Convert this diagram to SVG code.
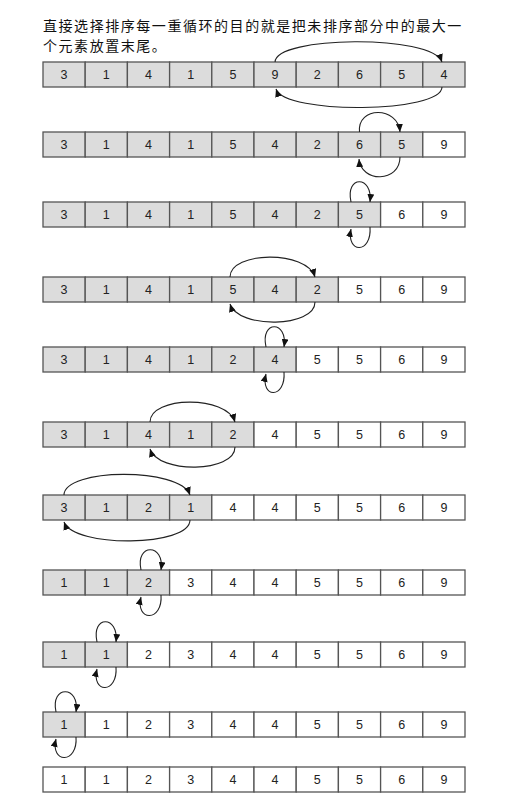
<svg xmlns="http://www.w3.org/2000/svg" width="525" height="802" viewBox="0 0 525 802">
<style>
.t{font-family:"Noto Sans CJK SC","Liberation Sans",sans-serif;font-size:14px;letter-spacing:1.55px;fill:#111}
.c rect{stroke:#555;stroke-width:1.3}
.g{fill:#dcdcdc}
.w{fill:#fff}
.c text{font-family:"Liberation Sans",Arial,sans-serif;font-size:12.5px;fill:#222;text-anchor:middle}
.a{fill:none;stroke:#222;stroke-width:1.1;marker-end:url(#ah)}
</style>
<defs>
<marker id="ah" markerUnits="userSpaceOnUse" markerWidth="9" markerHeight="7" refX="8" refY="3.5" orient="auto"><path d="M0,0 L8,3.5 L0,7 z" fill="#111"/></marker>
</defs>
<rect width="525" height="802" fill="#fff"/>
<text class="t" x="43" y="31">直接选择排序每一重循环的目的就是把未排序部分中的最大一</text>
<text class="t" x="43" y="51">个元素放置末尾。</text>

<g id="row1" class="c">
<g id="r1c1"><rect class="g" x="43" y="62" width="42.2" height="25"/><text x="64.1" y="79">3</text></g>
<g id="r1c2"><rect class="g" x="85.2" y="62" width="42.2" height="25"/><text x="106.3" y="79">1</text></g>
<g id="r1c3"><rect class="g" x="127.4" y="62" width="42.2" height="25"/><text x="148.5" y="79">4</text></g>
<g id="r1c4"><rect class="g" x="169.6" y="62" width="42.2" height="25"/><text x="190.7" y="79">1</text></g>
<g id="r1c5"><rect class="g" x="211.8" y="62" width="42.2" height="25"/><text x="232.9" y="79">5</text></g>
<g id="r1c6"><rect class="g" x="254" y="62" width="42.2" height="25"/><text x="275.1" y="79">9</text></g>
<g id="r1c7"><rect class="g" x="296.2" y="62" width="42.2" height="25"/><text x="317.3" y="79">2</text></g>
<g id="r1c8"><rect class="g" x="338.4" y="62" width="42.2" height="25"/><text x="359.5" y="79">6</text></g>
<g id="r1c9"><rect class="g" x="380.6" y="62" width="42.2" height="25"/><text x="401.7" y="79">5</text></g>
<g id="r1c10"><rect class="g" x="422.8" y="62" width="42.2" height="25"/><text x="443.9" y="79">4</text></g>
</g>

<g id="row2" class="c">
<g id="r2c1"><rect class="g" x="43" y="132" width="42.2" height="25"/><text x="64.1" y="149">3</text></g>
<g id="r2c2"><rect class="g" x="85.2" y="132" width="42.2" height="25"/><text x="106.3" y="149">1</text></g>
<g id="r2c3"><rect class="g" x="127.4" y="132" width="42.2" height="25"/><text x="148.5" y="149">4</text></g>
<g id="r2c4"><rect class="g" x="169.6" y="132" width="42.2" height="25"/><text x="190.7" y="149">1</text></g>
<g id="r2c5"><rect class="g" x="211.8" y="132" width="42.2" height="25"/><text x="232.9" y="149">5</text></g>
<g id="r2c6"><rect class="g" x="254" y="132" width="42.2" height="25"/><text x="275.1" y="149">4</text></g>
<g id="r2c7"><rect class="g" x="296.2" y="132" width="42.2" height="25"/><text x="317.3" y="149">2</text></g>
<g id="r2c8"><rect class="g" x="338.4" y="132" width="42.2" height="25"/><text x="359.5" y="149">6</text></g>
<g id="r2c9"><rect class="g" x="380.6" y="132" width="42.2" height="25"/><text x="401.7" y="149">5</text></g>
<g id="r2c10"><rect class="w" x="422.8" y="132" width="42.2" height="25"/><text x="443.9" y="149">9</text></g>
</g>

<g id="row3" class="c">
<g id="r3c1"><rect class="g" x="43" y="202" width="42.2" height="25"/><text x="64.1" y="219">3</text></g>
<g id="r3c2"><rect class="g" x="85.2" y="202" width="42.2" height="25"/><text x="106.3" y="219">1</text></g>
<g id="r3c3"><rect class="g" x="127.4" y="202" width="42.2" height="25"/><text x="148.5" y="219">4</text></g>
<g id="r3c4"><rect class="g" x="169.6" y="202" width="42.2" height="25"/><text x="190.7" y="219">1</text></g>
<g id="r3c5"><rect class="g" x="211.8" y="202" width="42.2" height="25"/><text x="232.9" y="219">5</text></g>
<g id="r3c6"><rect class="g" x="254" y="202" width="42.2" height="25"/><text x="275.1" y="219">4</text></g>
<g id="r3c7"><rect class="g" x="296.2" y="202" width="42.2" height="25"/><text x="317.3" y="219">2</text></g>
<g id="r3c8"><rect class="g" x="338.4" y="202" width="42.2" height="25"/><text x="359.5" y="219">5</text></g>
<g id="r3c9"><rect class="w" x="380.6" y="202" width="42.2" height="25"/><text x="401.7" y="219">6</text></g>
<g id="r3c10"><rect class="w" x="422.8" y="202" width="42.2" height="25"/><text x="443.9" y="219">9</text></g>
</g>

<g id="row4" class="c">
<g id="r4c1"><rect class="g" x="43" y="277" width="42.2" height="25"/><text x="64.1" y="294">3</text></g>
<g id="r4c2"><rect class="g" x="85.2" y="277" width="42.2" height="25"/><text x="106.3" y="294">1</text></g>
<g id="r4c3"><rect class="g" x="127.4" y="277" width="42.2" height="25"/><text x="148.5" y="294">4</text></g>
<g id="r4c4"><rect class="g" x="169.6" y="277" width="42.2" height="25"/><text x="190.7" y="294">1</text></g>
<g id="r4c5"><rect class="g" x="211.8" y="277" width="42.2" height="25"/><text x="232.9" y="294">5</text></g>
<g id="r4c6"><rect class="g" x="254" y="277" width="42.2" height="25"/><text x="275.1" y="294">4</text></g>
<g id="r4c7"><rect class="g" x="296.2" y="277" width="42.2" height="25"/><text x="317.3" y="294">2</text></g>
<g id="r4c8"><rect class="w" x="338.4" y="277" width="42.2" height="25"/><text x="359.5" y="294">5</text></g>
<g id="r4c9"><rect class="w" x="380.6" y="277" width="42.2" height="25"/><text x="401.7" y="294">6</text></g>
<g id="r4c10"><rect class="w" x="422.8" y="277" width="42.2" height="25"/><text x="443.9" y="294">9</text></g>
</g>

<g id="row5" class="c">
<g id="r5c1"><rect class="g" x="43" y="347" width="42.2" height="25"/><text x="64.1" y="364">3</text></g>
<g id="r5c2"><rect class="g" x="85.2" y="347" width="42.2" height="25"/><text x="106.3" y="364">1</text></g>
<g id="r5c3"><rect class="g" x="127.4" y="347" width="42.2" height="25"/><text x="148.5" y="364">4</text></g>
<g id="r5c4"><rect class="g" x="169.6" y="347" width="42.2" height="25"/><text x="190.7" y="364">1</text></g>
<g id="r5c5"><rect class="g" x="211.8" y="347" width="42.2" height="25"/><text x="232.9" y="364">2</text></g>
<g id="r5c6"><rect class="g" x="254" y="347" width="42.2" height="25"/><text x="275.1" y="364">4</text></g>
<g id="r5c7"><rect class="w" x="296.2" y="347" width="42.2" height="25"/><text x="317.3" y="364">5</text></g>
<g id="r5c8"><rect class="w" x="338.4" y="347" width="42.2" height="25"/><text x="359.5" y="364">5</text></g>
<g id="r5c9"><rect class="w" x="380.6" y="347" width="42.2" height="25"/><text x="401.7" y="364">6</text></g>
<g id="r5c10"><rect class="w" x="422.8" y="347" width="42.2" height="25"/><text x="443.9" y="364">9</text></g>
</g>

<g id="row6" class="c">
<g id="r6c1"><rect class="g" x="43" y="422" width="42.2" height="25"/><text x="64.1" y="439">3</text></g>
<g id="r6c2"><rect class="g" x="85.2" y="422" width="42.2" height="25"/><text x="106.3" y="439">1</text></g>
<g id="r6c3"><rect class="g" x="127.4" y="422" width="42.2" height="25"/><text x="148.5" y="439">4</text></g>
<g id="r6c4"><rect class="g" x="169.6" y="422" width="42.2" height="25"/><text x="190.7" y="439">1</text></g>
<g id="r6c5"><rect class="g" x="211.8" y="422" width="42.2" height="25"/><text x="232.9" y="439">2</text></g>
<g id="r6c6"><rect class="w" x="254" y="422" width="42.2" height="25"/><text x="275.1" y="439">4</text></g>
<g id="r6c7"><rect class="w" x="296.2" y="422" width="42.2" height="25"/><text x="317.3" y="439">5</text></g>
<g id="r6c8"><rect class="w" x="338.4" y="422" width="42.2" height="25"/><text x="359.5" y="439">5</text></g>
<g id="r6c9"><rect class="w" x="380.6" y="422" width="42.2" height="25"/><text x="401.7" y="439">6</text></g>
<g id="r6c10"><rect class="w" x="422.8" y="422" width="42.2" height="25"/><text x="443.9" y="439">9</text></g>
</g>

<g id="row7" class="c">
<g id="r7c1"><rect class="g" x="43" y="495" width="42.2" height="25"/><text x="64.1" y="512">3</text></g>
<g id="r7c2"><rect class="g" x="85.2" y="495" width="42.2" height="25"/><text x="106.3" y="512">1</text></g>
<g id="r7c3"><rect class="g" x="127.4" y="495" width="42.2" height="25"/><text x="148.5" y="512">2</text></g>
<g id="r7c4"><rect class="g" x="169.6" y="495" width="42.2" height="25"/><text x="190.7" y="512">1</text></g>
<g id="r7c5"><rect class="w" x="211.8" y="495" width="42.2" height="25"/><text x="232.9" y="512">4</text></g>
<g id="r7c6"><rect class="w" x="254" y="495" width="42.2" height="25"/><text x="275.1" y="512">4</text></g>
<g id="r7c7"><rect class="w" x="296.2" y="495" width="42.2" height="25"/><text x="317.3" y="512">5</text></g>
<g id="r7c8"><rect class="w" x="338.4" y="495" width="42.2" height="25"/><text x="359.5" y="512">5</text></g>
<g id="r7c9"><rect class="w" x="380.6" y="495" width="42.2" height="25"/><text x="401.7" y="512">6</text></g>
<g id="r7c10"><rect class="w" x="422.8" y="495" width="42.2" height="25"/><text x="443.9" y="512">9</text></g>
</g>

<g id="row8" class="c">
<g id="r8c1"><rect class="g" x="43" y="570" width="42.2" height="25"/><text x="64.1" y="587">1</text></g>
<g id="r8c2"><rect class="g" x="85.2" y="570" width="42.2" height="25"/><text x="106.3" y="587">1</text></g>
<g id="r8c3"><rect class="g" x="127.4" y="570" width="42.2" height="25"/><text x="148.5" y="587">2</text></g>
<g id="r8c4"><rect class="w" x="169.6" y="570" width="42.2" height="25"/><text x="190.7" y="587">3</text></g>
<g id="r8c5"><rect class="w" x="211.8" y="570" width="42.2" height="25"/><text x="232.9" y="587">4</text></g>
<g id="r8c6"><rect class="w" x="254" y="570" width="42.2" height="25"/><text x="275.1" y="587">4</text></g>
<g id="r8c7"><rect class="w" x="296.2" y="570" width="42.2" height="25"/><text x="317.3" y="587">5</text></g>
<g id="r8c8"><rect class="w" x="338.4" y="570" width="42.2" height="25"/><text x="359.5" y="587">5</text></g>
<g id="r8c9"><rect class="w" x="380.6" y="570" width="42.2" height="25"/><text x="401.7" y="587">6</text></g>
<g id="r8c10"><rect class="w" x="422.8" y="570" width="42.2" height="25"/><text x="443.9" y="587">9</text></g>
</g>

<g id="row9" class="c">
<g id="r9c1"><rect class="g" x="43" y="642" width="42.2" height="25"/><text x="64.1" y="659">1</text></g>
<g id="r9c2"><rect class="g" x="85.2" y="642" width="42.2" height="25"/><text x="106.3" y="659">1</text></g>
<g id="r9c3"><rect class="w" x="127.4" y="642" width="42.2" height="25"/><text x="148.5" y="659">2</text></g>
<g id="r9c4"><rect class="w" x="169.6" y="642" width="42.2" height="25"/><text x="190.7" y="659">3</text></g>
<g id="r9c5"><rect class="w" x="211.8" y="642" width="42.2" height="25"/><text x="232.9" y="659">4</text></g>
<g id="r9c6"><rect class="w" x="254" y="642" width="42.2" height="25"/><text x="275.1" y="659">4</text></g>
<g id="r9c7"><rect class="w" x="296.2" y="642" width="42.2" height="25"/><text x="317.3" y="659">5</text></g>
<g id="r9c8"><rect class="w" x="338.4" y="642" width="42.2" height="25"/><text x="359.5" y="659">5</text></g>
<g id="r9c9"><rect class="w" x="380.6" y="642" width="42.2" height="25"/><text x="401.7" y="659">6</text></g>
<g id="r9c10"><rect class="w" x="422.8" y="642" width="42.2" height="25"/><text x="443.9" y="659">9</text></g>
</g>

<g id="row10" class="c">
<g id="r10c1"><rect class="g" x="43" y="712" width="42.2" height="25"/><text x="64.1" y="729">1</text></g>
<g id="r10c2"><rect class="w" x="85.2" y="712" width="42.2" height="25"/><text x="106.3" y="729">1</text></g>
<g id="r10c3"><rect class="w" x="127.4" y="712" width="42.2" height="25"/><text x="148.5" y="729">2</text></g>
<g id="r10c4"><rect class="w" x="169.6" y="712" width="42.2" height="25"/><text x="190.7" y="729">3</text></g>
<g id="r10c5"><rect class="w" x="211.8" y="712" width="42.2" height="25"/><text x="232.9" y="729">4</text></g>
<g id="r10c6"><rect class="w" x="254" y="712" width="42.2" height="25"/><text x="275.1" y="729">4</text></g>
<g id="r10c7"><rect class="w" x="296.2" y="712" width="42.2" height="25"/><text x="317.3" y="729">5</text></g>
<g id="r10c8"><rect class="w" x="338.4" y="712" width="42.2" height="25"/><text x="359.5" y="729">5</text></g>
<g id="r10c9"><rect class="w" x="380.6" y="712" width="42.2" height="25"/><text x="401.7" y="729">6</text></g>
<g id="r10c10"><rect class="w" x="422.8" y="712" width="42.2" height="25"/><text x="443.9" y="729">9</text></g>
</g>

<g id="row11" class="c">
<g id="r11c1"><rect class="w" x="43" y="767" width="42.2" height="25"/><text x="64.1" y="784">1</text></g>
<g id="r11c2"><rect class="w" x="85.2" y="767" width="42.2" height="25"/><text x="106.3" y="784">1</text></g>
<g id="r11c3"><rect class="w" x="127.4" y="767" width="42.2" height="25"/><text x="148.5" y="784">2</text></g>
<g id="r11c4"><rect class="w" x="169.6" y="767" width="42.2" height="25"/><text x="190.7" y="784">3</text></g>
<g id="r11c5"><rect class="w" x="211.8" y="767" width="42.2" height="25"/><text x="232.9" y="784">4</text></g>
<g id="r11c6"><rect class="w" x="254" y="767" width="42.2" height="25"/><text x="275.1" y="784">4</text></g>
<g id="r11c7"><rect class="w" x="296.2" y="767" width="42.2" height="25"/><text x="317.3" y="784">5</text></g>
<g id="r11c8"><rect class="w" x="338.4" y="767" width="42.2" height="25"/><text x="359.5" y="784">5</text></g>
<g id="r11c9"><rect class="w" x="380.6" y="767" width="42.2" height="25"/><text x="401.7" y="784">6</text></g>
<g id="r11c10"><rect class="w" x="422.8" y="767" width="42.2" height="25"/><text x="443.9" y="784">9</text></g>
</g>

<g id="connectors">
<path class="a" d="M275.1,62 C275,36 432,34 442,62"/>
<path class="a" d="M442,87 C442,113 285,115 276,89"/>
<path class="a" d="M359.5,132 C357,106 398,106 400,132"/>
<path class="a" d="M400,157 C400,183 361,183 359,159"/>
<path class="a" d="M351,202 C345,175 373,175 370,202"/>
<path class="a" d="M370,227 C372,254 346,254 351,229"/>
<path class="a" d="M230,277 C230,251 307,250 315,277"/>
<path class="a" d="M315,302 C315,328 238,329 230,304"/>
<path class="a" d="M266,347 C260,320 288,320 284,347"/>
<path class="a" d="M284,372 C286,399 260,399 266,374"/>
<path class="a" d="M150,422 C150,396 227,395 235,422"/>
<path class="a" d="M235,447 C235,473 158,474 150,449"/>
<path class="a" d="M64,495 C64,468 180,467 190,495"/>
<path class="a" d="M190,520 C190,547 74,548 64,522"/>
<path class="a" d="M141,570 C135,543 165,543 161,570"/>
<path class="a" d="M161,595 C163,622 135,622 141,597"/>
<path class="a" d="M97,642 C91,615 119,615 116,642"/>
<path class="a" d="M116,667 C118,694 91,694 97,669"/>
<path class="a" d="M56,712 C50,685 80,685 76,712"/>
<path class="a" d="M76,737 C78,764 50,764 56,739"/>
</g>
</svg>
